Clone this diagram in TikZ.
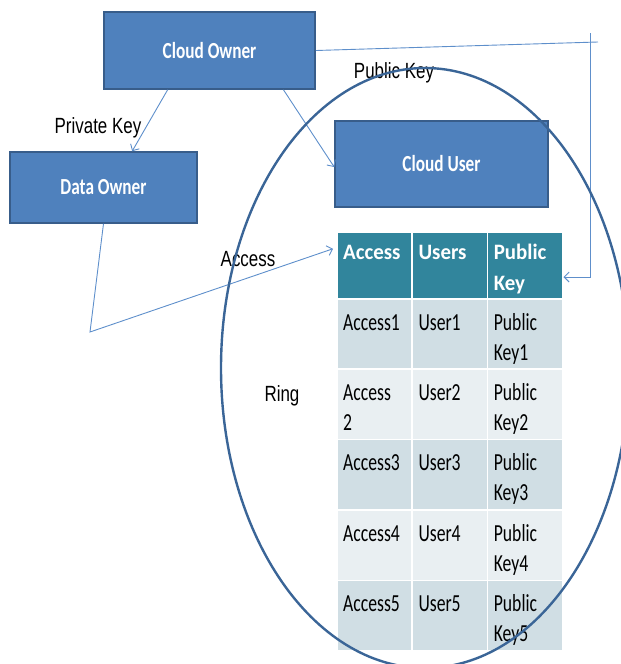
\documentclass[tikz,border=0pt]{standalone}
\usepackage{fontspec}
\setmainfont{Liberation Sans}
\newfontfamily\labelfont[FakeStretch=0.77]{Liberation Sans}
\newfontfamily\boxfont[FakeStretch=0.75]{Carlito}
\newfontfamily\cellfont[FakeStretch=0.72]{Carlito}
\newfontfamily\headfont[FakeStretch=0.95]{Carlito}
\usetikzlibrary{arrows.meta,calc}

\definecolor{boxblue}{HTML}{4F81BD}
\definecolor{boxedge}{HTML}{385D8A}
\definecolor{ringblue}{HTML}{3A6597}
\definecolor{linkblue}{HTML}{5E8FCB}
\definecolor{headteal}{HTML}{31859C}
\definecolor{rowdark}{HTML}{D0DEE4}
\definecolor{rowlight}{HTML}{E9EFF2}

\tikzset{
  entity/.style={draw=boxedge, fill=boxblue, line width=1.6pt, text=white,
    font=\boxfont\bfseries\fontsize{23}{27}\selectfont, inner sep=0pt},
  lbl/.style={font=\labelfont\fontsize{22}{26}\selectfont, inner sep=0pt, text=black},
  cell/.style={draw=white, line width=1.5pt, minimum width=75.33pt,
    inner sep=0pt, anchor=north west},
  celltext/.style={font=\cellfont\fontsize{24.5}{30}\selectfont, inner sep=0pt,
    anchor=base west, text=black},
  headtext/.style={font=\headfont\bfseries\fontsize{22}{30}\selectfont, inner sep=0pt,
    anchor=base west, text=white},
  link/.style={draw=linkblue, line width=0.9pt},
  tip/.style={-{Straight Barb[length=5pt,width=10pt,line width=0.9pt]}},
  ring/.style={draw=ringblue, line width=2.4pt}
}

\begin{document}
\begin{tikzpicture}[x=1pt, y=-1pt]
\useasboundingbox (0,0) rectangle (621,664);

% parties
\node[entity, minimum width=211pt, minimum height=77pt] (co) at (209.5,50.5) {Cloud Owner};
\node[entity, minimum width=187pt, minimum height=71pt] (do) at (103.5,187.5) {Data Owner};
\node[entity, minimum width=213pt, minimum height=86pt] (cu) at (441.5,164) {Cloud User};

% table header
\foreach \c in {1,2,3} {
  \pgfmathsetmacro\xl{336+(\c-1)*75.33}
  \node[cell, fill=headteal, minimum height=67pt] (h\c) at (\xl,231) {};
}
\node[headtext] (ht1) at ($(h1.north west)+(7,28.5)$) {Access};
\node[headtext] (ht2) at ($(h2.north west)+(7,28.5)$) {Users};
\node[headtext] (ht3) at ($(h3.north west)+(7,28.5)$) {Public};
\node[headtext] (ht4) at ($(h3.north west)+(7,59)$) {Key};

% table body
\foreach \r in {1,...,5} {
  \pgfmathsetmacro\yt{298+(\r-1)*70.4}
  \pgfmathtruncatemacro\odd{mod(\r,2)}
  \ifnum\odd=1 \def\shade{rowdark}\else\def\shade{rowlight}\fi
  \foreach \c in {1,2,3} {
    \pgfmathsetmacro\xl{336+(\c-1)*75.33}
    \node[cell, fill=\shade, minimum height=70.4pt] (r\r c\c) at (\xl,\yt) {};
  }
}
\foreach \r in {1,3,4,5} {
  \node[celltext] (a\r) at ($(r\r c1.north west)+(7,32)$) {Access\r};
}
\node[celltext] (a2) at ($(r2c1.north west)+(7,32)$) {Access};
\node[celltext] (a2b) at ($(r2c1.north west)+(7,62)$) {2};
\foreach \r in {1,...,5} {
  \node[celltext] (u\r) at ($(r\r c2.north west)+(7,32)$) {User\r};
  \node[celltext] (p\r) at ($(r\r c3.north west)+(7,32)$) {Public};
  \node[celltext] (k\r) at ($(r\r c3.north west)+(7,62)$) {Key\r};
}

% labels
\node[lbl, anchor=base] (lpriv) at (98,133) {Private Key};
\node[lbl, anchor=base] (lpub) at (394,78) {Public Key};
\node[lbl, anchor=base] (lacc) at (248,266) {Access};
\node[lbl, anchor=base] (lring) at (282,401) {Ring};

% connectors
\draw[link, tip] ($(co.south west)!0.303!(co.south east)$) -- ($(do.north west)!0.652!(do.north east)$);
\draw[link, tip] ($(co.south west)!0.848!(co.south east)$) -- ($(cu.west)+(0,3)$);

\coordinate (pkend) at (598,42);
\coordinate (pktop) at (590,33);
\coordinate (pkbend) at (590,277);
\draw[link] (co.east) -- (pkend);
\draw[link, tip] (pktop) -- (pkbend) -- (pkbend -| h3.east);

\coordinate (acbend) at (90,332);
\draw[link, tip] (do.south) -- (acbend) -- ($(h1.west)+(-3,-16.5)$);

% ring
\draw[ring] (425,368) ellipse [x radius=204pt, y radius=300pt];
\end{tikzpicture}
\end{document}
